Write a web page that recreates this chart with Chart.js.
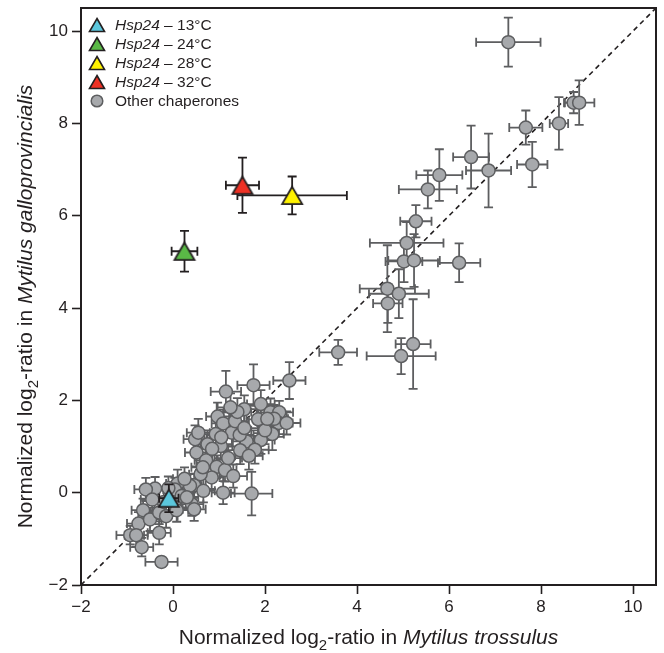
<!DOCTYPE html>
<html><head><meta charset="utf-8">
<script src="https://cdn.jsdelivr.net/npm/chart.js@4/dist/chart.umd.min.js"></script>
<style>html,body{margin:0;padding:0;background:#fff}#wrap{width:664px;height:653px}</style>
</head><body><div id="wrap"><canvas id="c" width="664" height="653"></canvas></div>
<script>
// ---- data ----
const otherX = [7.29,8.71,8.83,8.39,7.67,7.81,6.48,6.86,5.79,5.54,5.28,5.08,5.02,5.24,6.22,4.66,4.91,4.67,5.22,4.96,3.59,2.53,
  1.15,1.75,1.55,1.91,2.12,2.31,1.85,2.30,2.47,2.16,0.97,1.09,1.28,0.93,0.48,0.55,1.60,1.91,1.46,1.78,1.65,1.04,0.51,0.72,0.95,1.13,1.31,0.84,0.46,0.66,1.09,1.71,
  -0.39,-0.59,0.10,0.37,0.04,0.19,-0.65,-0.75,-0.50,-0.30,-0.15,0.08,0.41,0.46,-0.30,-0.93,-0.80,-0.68,-0.25,
  1.35,1.45,1.20,2.00,0.75,-0.10,0.25,-0.20,0.60,0.30,1.40,2.20,0.85,1.25,1.05,0.65,2.05,1.55,-0.45];
const otherY = [9.76,8.45,8.45,8.00,7.91,7.11,7.27,6.98,6.88,6.57,5.88,5.41,5.01,5.03,4.98,4.42,4.31,4.10,3.22,2.96,3.04,2.43,
  2.19,2.33,1.81,1.92,1.74,1.74,1.59,1.51,1.51,1.27,1.65,1.50,1.30,1.27,1.16,1.30,1.11,1.14,0.92,0.93,0.80,1.01,0.87,0.70,0.56,0.49,0.36,0.33,0.16,0.04,0.00,-0.02,
  0.09,0.07,0.20,0.15,0.07,-0.07,-0.38,-0.67,-0.58,-0.43,-0.51,-0.38,-0.25,-0.36,-0.87,-0.92,-0.92,-1.18,-1.50,
  1.55,1.25,0.75,1.35,1.05,0.10,0.30,-0.20,0.40,-0.10,1.75,1.60,0.95,1.85,1.20,0.55,1.60,1.40,-0.15];
const otherXErr = [0.70,0.19,0.33,0.20,0.36,0.33,0.39,0.49,0.50,0.63,0.34,0.80,0.40,0.56,0.46,0.60,0.65,0.32,0.38,0.75,0.41,0.35,
  0.33,0.35,0.30,0.30,0.30,0.30,0.25,0.30,0.30,0.25,0.25,0.25,0.30,0.25,0.25,0.25,0.30,0.30,0.30,0.30,0.30,0.25,0.25,0.25,0.25,0.25,0.30,0.25,0.25,0.25,0.25,0.45,
  0.25,0.25,0.25,0.25,0.25,0.25,0.25,0.25,0.25,0.25,0.25,0.25,0.25,0.25,0.25,0.30,0.25,0.25,0.35,
  0.30,0.30,0.30,0.30,0.25,0.25,0.25,0.25,0.25,0.25,0.30,0.30,0.25,0.30,0.25,0.25,0.30,0.30,0.25];
const otherYErr = [0.53,0.23,0.48,0.57,0.37,0.49,0.68,0.80,0.56,0.41,0.35,0.45,0.45,0.57,0.42,0.94,0.53,0.42,0.97,0.39,0.27,0.40,
  0.45,0.45,0.30,0.30,0.30,0.25,0.30,0.30,0.25,0.35,0.30,0.30,0.30,0.30,0.30,0.30,0.30,0.30,0.30,0.30,0.30,0.30,0.30,0.25,0.25,0.25,0.25,0.25,0.25,0.25,0.25,0.47,
  0.25,0.25,0.30,0.25,0.25,0.25,0.25,0.25,0.25,0.25,0.25,0.25,0.25,0.25,0.25,0.20,0.25,0.20,0.10,
  0.30,0.30,0.30,0.30,0.30,0.25,0.25,0.25,0.25,0.25,0.30,0.30,0.30,0.30,0.30,0.25,0.30,0.30,0.25];

const hspTemps = ['13°C','24°C','28°C','32°C'];
const hspX = [-0.09, 0.25, 2.59, 1.51];
const hspY = [-0.12, 5.23, 6.44, 6.66];
const hspXErr = [0.21, 0.28, 1.19, 0.36];
const hspYErr = [0.30, 0.44, 0.41, 0.60];
const hspColors = ['#5bc6dc','#5ab946','#fff200','#ee3124'];
const otherLabel = 'Other chaperones';
const axisTicks = [-2,0,2,4,6,8,10];
const axisMin = -2, axisMax = 10.5;
const xTitle = [['Normalized log',''],['2','sub'],['-ratio in ',''],['Mytilus trossulus','i']];
const yTitle = [['Normalized log',''],['2','sub'],['-ratio in ',''],['Mytilus galloprovincialis','i']];

// ---- styles ----
const INK = '#231f20';
const FONT = '"Liberation Sans", Arial, Helvetica, sans-serif';
const GRAY_FILL = '#a7a9ac', GRAY_EDGE = '#5d5e60';

function triCanvas(fill, w, lw) {
  const h = w * Math.sqrt(3) / 2;
  const c = document.createElement('canvas');
  const pad = lw + 1;
  c.width = Math.ceil(w + 2*pad); c.height = Math.ceil(h + 2*pad);
  const g = c.getContext('2d');
  const cx = c.width/2, cy = c.height/2;
  g.beginPath();
  g.moveTo(cx, cy - h/2); g.lineTo(cx + w/2, cy + h/2); g.lineTo(cx - w/2, cy + h/2); g.closePath();
  g.fillStyle = fill; g.fill();
  g.lineWidth = lw; g.lineJoin = 'miter'; g.strokeStyle = INK; g.stroke();
  return c;
}

const datasets = [];
hspTemps.forEach((t, i) => {
  datasets.push({
    type: 'scatter', label: 'Hsp24 – ' + t,
    data: [{x: hspX[i], y: hspY[i]}],
    errX: [hspXErr[i]], errY: [hspYErr[i]], errColor: INK,
    pointStyle: triCanvas(hspColors[i], 20, 1.8),
    order: 3 - i
  });
});
datasets.push({
  type: 'scatter', label: otherLabel,
  data: otherX.map((x, i) => ({x, y: otherY[i]})),
  errX: otherXErr, errY: otherYErr, errColor: GRAY_EDGE,
  pointStyle: 'circle', pointRadius: 6.5, pointBorderWidth: 1.5,
  backgroundColor: GRAY_FILL, borderColor: GRAY_EDGE, order: 4
});
datasets.push({
  type: 'line', label: 'diag',
  data: [{x: axisMin, y: axisMin}, {x: axisMax, y: axisMax}],
  borderColor: INK, borderWidth: 1.6, borderDash: [5, 4], pointRadius: 0, order: 5
});

const errorBars = {
  id: 'errorBars',
  beforeDatasetDraw(chart, args) {
    const ds = chart.data.datasets[args.index];
    if (!ds.errX) return;
    const xs = chart.scales.x, ys = chart.scales.y, ctx = chart.ctx;
    ctx.save();
    ctx.strokeStyle = ds.errColor; ctx.lineWidth = 1.8; ctx.lineCap = 'butt';
    const cap = 4.5;
    ds.data.forEach((p, i) => {
      const px = xs.getPixelForValue(p.x), py = ys.getPixelForValue(p.y);
      const x0 = xs.getPixelForValue(p.x - ds.errX[i]), x1 = xs.getPixelForValue(p.x + ds.errX[i]);
      const y0 = ys.getPixelForValue(p.y - ds.errY[i]), y1 = ys.getPixelForValue(p.y + ds.errY[i]);
      ctx.beginPath();
      ctx.moveTo(x0, py); ctx.lineTo(x1, py);
      ctx.moveTo(x0, py - cap); ctx.lineTo(x0, py + cap);
      ctx.moveTo(x1, py - cap); ctx.lineTo(x1, py + cap);
      ctx.moveTo(px, y0); ctx.lineTo(px, y1);
      ctx.moveTo(px - cap, y0); ctx.lineTo(px + cap, y0);
      ctx.moveTo(px - cap, y1); ctx.lineTo(px + cap, y1);
      ctx.stroke();
    });
    ctx.restore();
  }
};

function drawRich(ctx, segs, size) {
  let w = 0;
  const parts = segs.map(([t, k]) => {
    const f = k === 'i' ? `italic ${size}px ${FONT}` : k === 'sub' ? `${Math.round(size*0.7)}px ${FONT}` : `${size}px ${FONT}`;
    ctx.font = f; const mw = ctx.measureText(t).width;
    const o = {t, f, x: w, dy: k === 'sub' ? size*0.3 : 0}; w += mw; return o;
  });
  return {w, parts};
}

const decor = {
  id: 'decor',
  afterDraw(chart) {
    const ctx = chart.ctx, a = chart.chartArea;
    ctx.save();
    ctx.strokeStyle = INK; ctx.lineWidth = 2;
    ctx.beginPath();
    ctx.moveTo(a.left, a.top); ctx.lineTo(a.right, a.top); ctx.lineTo(a.right, a.bottom);
    ctx.stroke();
    ctx.fillStyle = INK; ctx.textBaseline = 'alphabetic'; ctx.textAlign = 'left';
    const size = 21;
    let r = drawRich(ctx, xTitle, size);
    let sx = (a.left + a.right)/2 - r.w/2, sy = 644;
    r.parts.forEach(p => { ctx.font = p.f; ctx.fillText(p.t, sx + p.x, sy + p.dy); });
    r = drawRich(ctx, yTitle, size);
    ctx.save();
    ctx.translate(32, (a.top + a.bottom)/2 + 10);
    ctx.rotate(-Math.PI/2);
    r.parts.forEach(p => { ctx.font = p.f; ctx.fillText(p.t, -r.w/2 + p.x, p.dy); });
    ctx.restore();
    const lx = 97, ly0 = 25, step = 19;
    ctx.textBaseline = 'middle';
    hspTemps.forEach((t, i) => {
      const y = ly0 + i*step;
      const w = 15, h = w*Math.sqrt(3)/2;
      ctx.beginPath();
      ctx.moveTo(lx, y - h/2); ctx.lineTo(lx + w/2, y + h/2); ctx.lineTo(lx - w/2, y + h/2); ctx.closePath();
      ctx.fillStyle = hspColors[i]; ctx.fill(); ctx.lineWidth = 1.6; ctx.strokeStyle = INK; ctx.stroke();
      ctx.fillStyle = INK;
      ctx.font = `italic 15.5px ${FONT}`; ctx.fillText('Hsp24', 115, y + 1);
      const w1 = ctx.measureText('Hsp24').width;
      ctx.font = `15.5px ${FONT}`; ctx.fillText(' – ' + t, 115 + w1, y + 1);
    });
    const cy = ly0 + 4*step;
    ctx.beginPath(); ctx.arc(lx, cy, 5.8, 0, Math.PI*2);
    ctx.fillStyle = GRAY_FILL; ctx.fill(); ctx.lineWidth = 1.5; ctx.strokeStyle = GRAY_EDGE; ctx.stroke();
    ctx.fillStyle = INK; ctx.font = `15.5px ${FONT}`; ctx.fillText(otherLabel, 115, cy + 1);
    ctx.restore();
  }
};

const fmt = v => (v < 0 ? '\u2212' + Math.abs(v) : String(v));
function axis(isX) {
  return {
    type: 'linear', min: axisMin, max: axisMax,
    afterBuildTicks: s => { s.ticks = axisTicks.map(v => ({value: v})); },
    afterFit: s => {
      if (isX) { s.height = 68; s.paddingLeft = 0; s.paddingRight = 0; }
      else { s.width = 81; s.paddingTop = 0; s.paddingBottom = 0; }
    },
    grid: {drawOnChartArea: false, drawTicks: true, tickLength: 9, tickWidth: 1.6, tickColor: INK, color: INK},
    border: {display: true, color: INK, width: 2},
    ticks: {font: {family: FONT, size: 17}, color: INK, padding: isX ? 3 : 4, maxRotation: 0, autoSkip: false, callback: v => fmt(v)},
    title: {display: false}
  };
}

new Chart(document.getElementById('c'), {
  data: {datasets},
  options: {
    responsive: false, animation: false, events: [],
    layout: {padding: {top: 8, right: 8, left: 0, bottom: 0}},
    plugins: {legend: {display: false}, tooltip: {enabled: false}},
    scales: {x: axis(true), y: axis(false)}
  },
  plugins: [errorBars, decor]
});
</script></body></html>
